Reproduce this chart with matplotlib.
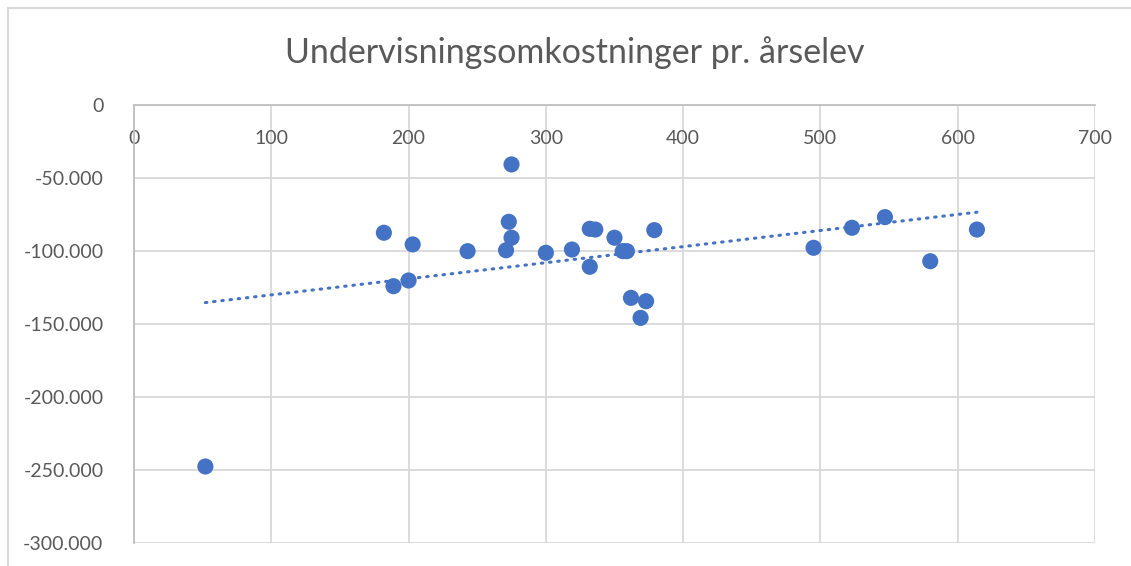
import numpy as np
import matplotlib.pyplot as plt
from matplotlib.patches import Rectangle

# elever (x) og undervisningsomkostninger pr. årselev (y)
elever = [52, 182, 189, 200, 203, 243, 271, 273, 275, 275,
          300, 319, 332, 336, 332, 350, 356, 359, 362, 373,
          369, 379, 495, 523, 547, 580, 614]
omk = [-247600, -87500, -124100, -120200, -95500, -100100, -99500, -80000, -90900, -40700,
       -101200, -99000, -84800, -85300, -110800, -90900, -100100, -100100, -132100, -134400,
       -145800, -85700, -97800, -84100, -76800, -107000, -85300]

xticks = list(range(0, 701, 100))
yticks = list(range(-300000, 1, 50000))

blue = '#4472C4'
grey_txt = '#595959'
plt.rcParams['font.family'] = ['Lato', 'DejaVu Sans']

fig = plt.figure(figsize=(11.31, 5.66), dpi=100)
ax = fig.add_axes([134 / 1131, 1 - 543 / 566, (1095 - 134) / 1131, (543 - 105) / 566])

# ramme om diagrammet
fig.patches.append(Rectangle((7.5 / 1131, -0.1), 1.2, 1 - 7.5 / 566 + 0.1,
                             transform=fig.transFigure, fill=False,
                             edgecolor='#d9d9d9', lw=1.5))

ax.scatter(elever, omk, s=135, color=blue, zorder=3, edgecolors='none')

# lineær tendenslinje
k, m = np.polyfit(elever, omk, 1)
xs = np.array([min(elever), max(elever)])
ax.plot(xs, k * xs + m, color=blue, lw=2.2, linestyle=(0, (0.5, 2.2)),
        dash_capstyle='round', zorder=2)

ax.set_xlim(0, 700)
ax.set_ylim(-300000, 0)
ax.set_xticks(xticks)
ax.set_yticks(yticks)
ax.set_yticklabels([f"{v:,.0f}".replace(",", ".") for v in yticks])
ax.grid(True, color='#d9d9d9', lw=1.3)
ax.set_axisbelow(True)

for s in ['bottom', 'right']:
    ax.spines[s].set_visible(False)
for s in ['left', 'top']:
    ax.spines[s].set_color('#bfbfbf')
    ax.spines[s].set_linewidth(1.3)

ax.tick_params(axis='x', top=True, labeltop=True, bottom=False, labelbottom=False,
               length=0, pad=-30, labelsize=14, labelcolor=grey_txt)
ax.tick_params(axis='y', length=0, pad=22, labelsize=14, labelcolor=grey_txt)

fig.text(0.508, 1 - 53 / 566, 'Undervisningsomkostninger pr. årselev',
         ha='center', va='center', fontsize=24.5, color=grey_txt)

fig.savefig('out.png', dpi=100)
